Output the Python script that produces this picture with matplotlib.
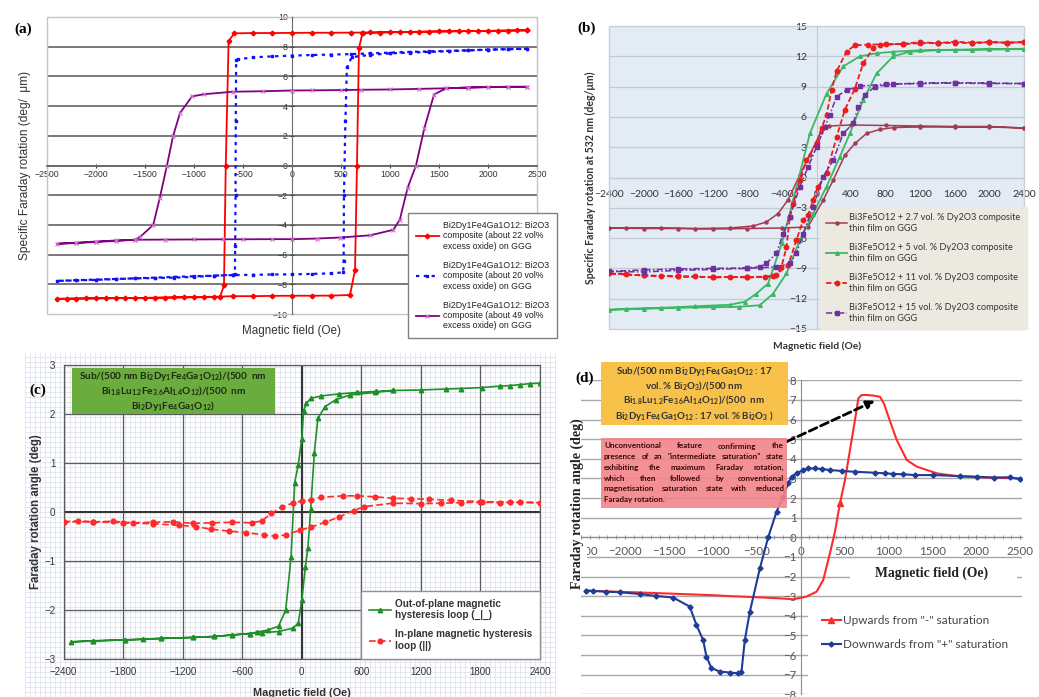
"""
Four-panel Faraday rotation hysteresis figure (a)-(d)
"""
import numpy as np
import matplotlib
matplotlib.use('Agg')
import matplotlib.pyplot as plt
from matplotlib.patches import Rectangle

plt.rcParams['mathtext.default'] = 'regular'

W, H = 1039, 697
ARIAL = 'Liberation Sans'
CALIBRI = 'Lato'
TIMES = 'Liberation Serif'

# ---------------- panel (a) data ----------------
a_red_x = [2400, 2200, 2000, 1800, 1600, 1400, 1200, 1000, 800, 720, 600, 400, 200, 0, -200, -400, -590,
           -647, -676, -694, -735, -900, -1100, -1300, -1500, -1700, -1900, -2100, -2300, -2400,
           -2200, -2000, -1800, -1600, -1400, -1200, -1000, -800, -600, -400, -200, 0, 200, 400, 592,
           643, 663, 683, 719, 900, 1100, 1300, 1500, 1700, 1900, 2100, 2300, 2400]
a_red_y = [9.1, 9.08, 9.06, 9.05, 9.03, 9.02, 9.0, 8.99, 8.97, 8.95, 8.95, 8.94, 8.94, 8.93, 8.92, 8.92, 8.9,
           8.37, 0.0, -8.08, -8.85, -8.87, -8.88, -8.9, -8.92, -8.93, -8.94, -8.95, -8.97, -8.98,
           -8.96, -8.95, -8.93, -8.92, -8.9, -8.88, -8.86, -8.84, -8.8, -8.8, -8.78, -8.77, -8.77, -8.76, -8.72,
           -7.03, 0.0, 7.9, 8.9, 8.95, 8.98, 9.0, 9.03, 9.05, 9.06, 9.08, 9.1, 9.1]

a_blue_x = [2400, 2200, 2000, 1800, 1600, 1400, 1200, 1000, 800, 600, 400, 200, 0, -200, -400, -550, -570,
            -574, -576, -580, -583, -600, -800, -1000, -1200, -1400, -1600, -1800, -2000, -2200, -2400,
            -2200, -2000, -1800, -1600, -1400, -1200, -1000, -800, -600, -400, -200, 0, 200, 400, 523,
            527, 530, 545, 560, 610, 800, 1000, 1200, 1400, 1600, 1800, 2000, 2200, 2400]
a_blue_y = [7.86, 7.84, 7.8, 7.76, 7.72, 7.68, 7.65, 7.6, 7.55, 7.5, 7.47, 7.44, 7.4, 7.35, 7.28, 7.15, 7.1,
            3.0, -2.0, -5.45, -7.3, -7.36, -7.42, -7.5, -7.55, -7.58, -7.6, -7.65, -7.7, -7.74, -7.77,
            -7.72, -7.68, -7.64, -7.6, -7.55, -7.5, -7.46, -7.42, -7.38, -7.36, -7.34, -7.33, -7.3, -7.26, -7.2,
            -6.4, -2.0, 3.0, 6.6, 7.3, 7.45, 7.55, 7.6, 7.65, 7.7, 7.75, 7.8, 7.83, 7.86]

a_purple_x = [2400, 2200, 2000, 1800, 1573, 1300, 1000, 700, 500, 200, 0, -300, -600, -900, -1021, -1143,
              -1214, -1276, -1350, -1416, -1548, -1600, -1800, -2000, -2200, -2400,
              -2200, -2000, -1800, -1600, -1300, -1000, -700, -500, -200, 0, 250, 493, 800, 1034, 1100,
              1180, 1265, 1350, 1449, 1573, 1800, 2000, 2200, 2400]
a_purple_y = [5.3, 5.3, 5.28, 5.25, 5.2, 5.16, 5.12, 5.1, 5.08, 5.06, 5.05, 5.0, 4.97, 4.8, 4.65, 3.53,
              1.97, 0.0, -2.2, -4.0, -4.8, -5.0, -5.08, -5.15, -5.22, -5.27,
              -5.2, -5.12, -5.05, -5.0, -4.99, -4.98, -4.97, -4.97, -4.96, -4.96, -4.92, -4.85, -4.7, -4.33, -3.65,
              -1.5, 0.0, 2.5, 4.78, 5.2, 5.25, 5.28, 5.3, 5.3]

a_labels = ['Bi2Dy1Fe4Ga1O12: Bi2O3\ncomposite (about 22 vol%\nexcess oxide) on GGG',
            'Bi2Dy1Fe4Ga1O12: Bi2O3\ncomposite (about 20 vol%\nexcess oxide) on GGG',
            'Bi2Dy1Fe4Ga1O12: Bi2O3\ncomposite (about 49 vol%\nexcess oxide) on GGG']

# ---------------- panel (b) data ----------------
b_brown_x = [2400, 2000, 1600, 1200, 800, 400, 150, 50, -77, -193, -328, -444, -579, -733, -1000, -1400,
             -1800, -2200, -2400, -2000, -1600, -1200, -800, -400, -100, 77, 193, 328, 444, 579, 733, 900,
             1200, 1600, 2000, 2400]
b_brown_y = [4.9, 5.05, 5.05, 5.1, 5.15, 5.2, 5.1, 4.5, 2.25, 0.26, -2.2, -3.57, -4.4, -4.8, -5.0, -5.05,
             -5.0, -5.0, -5.0, -5.05, -5.05, -5.1, -5.05, -5.0, -4.9, -2.25, -0.26, 2.2, 3.37, 4.36, 4.76, 4.95,
             5.0, 5.0, 5.0, 4.9]

b_green_x = [2400, 2000, 1600, 1200, 888, 695, 502, 309, 116, -77, -270, -400, -560, -695, -830, -1000,
             -1400, -1800, -2200, -2400, -2000, -1600, -1200, -900, -656, -502, -347, -193, -39, 116, 270,
             386, 540, 695, 888, 1080, 1400, 1800, 2200, 2400]
b_green_y = [12.7, 12.7, 12.65, 12.6, 12.45, 12.3, 12.0, 11.0, 8.3, 4.36, -2.25, -6.5, -10.5, -11.5, -12.3,
             -12.6, -12.75, -12.9, -13.0, -13.1, -13.0, -12.9, -12.85, -12.8, -12.65, -11.5, -9.5, -6.2, -3.57,
             -0.9, 2.05, 4.36, 7.66, 10.3, 12.0, 12.45, 12.6, 12.65, 12.7, 12.75]

b_red_x = [2400, 2200, 2000, 1800, 1600, 1400, 1200, 1000, 800, 600, 444, 347, 232, 174, 116, 58, 0, -116,
           -193, -270, -309, -347, -405, -463, -600, -800, -1000, -1200, -1400, -1600, -1800, -2000, -2200,
           -2400, -2000, -1600, -1200, -800, -500, -328, -232, -154, -96, -39, 19, 116, 232, 328, 444, 540,
           656, 733, 1000, 1200, 1400, 1600, 1800, 2000, 2200, 2400]
b_red_y = [13.4, 13.35, 13.4, 13.3, 13.35, 13.3, 13.3, 13.2, 13.2, 13.15, 13.1, 12.45, 10.5, 8.65, 6.2, 4.86,
           3.37, 1.7, -0.26, -2.6, -3.9, -6.9, -8.85, -9.7, -9.85, -9.9, -9.85, -9.9, -9.8, -9.8, -9.75, -9.7,
           -9.6, -9.5, -9.7, -9.8, -9.85, -9.85, -9.8, -8.7, -6.2, -4.2, -3.7, -2.25, -0.9, 0.4, 4.0, 6.7, 8.8,
           11.3, 12.8, 13.1, 13.25, 13.4, 13.3, 13.45, 13.35, 13.4, 13.35, 13.4]

b_purple_x = [2400, 2000, 1600, 1200, 800, 502, 347, 232, 154, 96, 0, -96, -193, -309, -386, -463, -579,
              -656, -800, -1200, -1600, -2000, -2400, -2000, -1600, -1200, -800, -463, -309, -232, -154, -39,
              77, 193, 309, 424, 482, 560, 675, 888, 1200, 1600, 2000, 2400]
b_purple_y = [9.3, 9.3, 9.35, 9.3, 9.25, 9.05, 8.65, 8.0, 6.2, 5.0, 3.0, 1.06, -0.9, -3.9, -5.55, -7.5, -8.5,
              -8.85, -8.95, -9.0, -9.05, -9.15, -9.3, -9.35, -9.2, -9.1, -9.0, -8.85, -8.5, -7.5, -5.55, -2.9,
              0.07, 1.7, 4.36, 5.35, 7.0, 8.16, 9.0, 9.25, 9.35, 9.4, 9.35, 9.3]

b_labels = ['Bi3Fe5O12 + 2.7 vol. % Dy2O3 composite\nthin film on GGG',
            'Bi3Fe5O12 + 5 vol. % Dy2O3 composite\nthin film on GGG',
            'Bi3Fe5O12 + 11 vol. % Dy2O3 composite\nthin film on GGG',
            'Bi3Fe5O12 + 15 vol. % Dy2O3 composite\nthin film on GGG']

# ---------------- panel (c) data ----------------
c_green_x = [2400, 2300, 2200, 2100, 2000, 1817, 1600, 1457, 1200, 917, 750, 558, 378, 198, 90, 47, 18, 0,
             -36, -72, -108, -162, -234, -342, -450, -522, -700, -882, -1100, -1421, -1600, -1781, -2105,
             -2321, -2105, -1781, -1421, -1100, -882, -700, -522, -400, -234, -90, -36, 0, 36, 61, 90, 126,
             162, 234, 342, 486, 738, 917]
c_green_y = [2.63, 2.62, 2.6, 2.58, 2.57, 2.54, 2.52, 2.51, 2.49, 2.48, 2.46, 2.44, 2.41, 2.37, 2.32, 2.22,
             2.07, 1.5, 0.96, 0.6, -0.91, -2.0, -2.33, -2.41, -2.45, -2.48, -2.51, -2.54, -2.56, -2.58, -2.6,
             -2.61, -2.63, -2.65, -2.63, -2.61, -2.58, -2.56, -2.54, -2.51, -2.48, -2.46, -2.44, -2.37, -2.27,
             -1.8, -1.12, -0.74, 0.07, 1.2, 1.91, 2.15, 2.29, 2.39, 2.44, 2.48]

c_red_x = [-2400, -2250, -2100, -1900, -1700, -1500, -1300, -1100, -900, -700, -500, -400, -306, -198, -90,
           0, 90, 198, 414, 558, 738, 917, 1100, 1277, 1500, 1817, 2100, 2400, 2200, 2000, 1800, 1600, 1400,
           1200, 917, 630, 522, 378, 234, 90, -18, -162, -270, -378, -558, -738, -917, -1061, -1241, -1500,
           -1800, -2100, -2400]
c_red_y = [-0.2, -0.18, -0.2, -0.19, -0.22, -0.21, -0.2, -0.23, -0.22, -0.21, -0.22, -0.18, -0.03, 0.11,
           0.18, 0.23, 0.245, 0.3, 0.33, 0.33, 0.31, 0.28, 0.27, 0.26, 0.24, 0.21, 0.2, 0.19, 0.2, 0.19, 0.2,
           0.19, 0.18, 0.17, 0.18, 0.11, 0.03, -0.1, -0.21, -0.31, -0.37, -0.47, -0.49, -0.47, -0.42, -0.39,
           -0.35, -0.3, -0.27, -0.24, -0.22, -0.2, -0.2]

c_labels = ['Out-of-plane magnetic\nhysteresis loop (_|_)', 'In-plane magnetic hysteresis\nloop (||)']

# ---------------- panel (d) data ----------------
d_up_x = [-2440, -2200, -1900, -1604, -1300, -1000, -844, -464, -200, -84, 68, 182, 258, 334, 391, 448, 505,
          562, 619, 657, 695, 760, 828, 904, 950, 999, 1094, 1208, 1322, 1550, 1816, 2196, 2519]
d_up_y = [-2.72, -2.76, -2.8, -2.85, -2.9, -2.95, -2.99, -3.06, -3.12, -3.16, -3.02, -2.77, -2.17, -0.81,
          0.29, 1.73, 2.92, 4.45, 5.98, 7.08, 7.25, 7.25, 7.22, 7.16, 6.8, 6.15, 4.96, 3.94, 3.6, 3.26, 3.09,
          3.04, 3.0]

d_down_x = [2500, 2386, 2196, 2006, 1816, 1512, 1303, 1170, 1056, 961, 847, 619, 467, 334, 239, 163, 87, 30,
            -46, -103, -141, -198, -274, -369, -464, -578, -635, -673, -711, -806, -920, -1015, -1072, -1110,
            -1186, -1262, -1452, -1642, -1832, -2060, -2212, -2364, -2440]
d_down_y = [2.95, 3.06, 3.04, 3.09, 3.12, 3.17, 3.17, 3.21, 3.23, 3.26, 3.29, 3.34, 3.38, 3.43, 3.48, 3.51,
            3.51, 3.43, 3.26, 3.09, 2.75, 2.07, 1.31, 0.0, -1.58, -3.79, -5.23, -6.84, -6.93, -6.89, -6.84,
            -6.67, -6.08, -5.23, -4.47, -3.53, -3.07, -2.99, -2.89, -2.8, -2.77, -2.73, -2.72]

d_labels = ['Upwards from "-" saturation', 'Downwards from "+" saturation']

pink_lines = ['Unconventional feature confirming the',
              'presence of an "intermediate saturation" state',
              'exhibiting the maximum Faraday rotation,',
              'which then followed by conventional',
              'magnetisation saturation state with reduced',
              'Faraday rotation.']


def box(l, t, r, b):
    """pixel box (left, top, right, bottom) -> figure fraction rect"""
    return [l / W, 1 - b / H, (r - l) / W, (b - t) / H]


def fpt(x, y):
    return (x / W, 1 - y / H)


def set_font(ax, family):
    for lab in ax.get_xticklabels() + ax.get_yticklabels():
        lab.set_fontfamily(family)


def frame(ax, color, lw=1.0):
    ax.add_patch(Rectangle((0, 0), 1, 1, transform=ax.transAxes, fill=False,
                           ec=color, lw=lw, clip_on=False, zorder=1))


def px_rect(fig, l, t, r, b, color, alpha=1.0, zorder=4):
    fig.add_artist(Rectangle(fpt(l, b), (r - l) / W, (b - t) / H, transform=fig.transFigure,
                             fc=color, ec='none', alpha=alpha, zorder=zorder))


fig = plt.figure(figsize=(W / 100, H / 100), dpi=100)

# ======================= (a) =======================
axa = fig.add_axes(box(47, 17, 537, 314))
l1, = axa.plot(a_red_x, a_red_y, color='#ff0000', lw=1.3, marker='D', ms=2.4, zorder=3)
l2, = axa.plot(a_blue_x, a_blue_y, color='#1010ff', lw=1.6, ls=(0, (1.5, 2)), marker='s', ms=1.8, zorder=3)
l3, = axa.plot(a_purple_x, a_purple_y, color='#800080', lw=1.3, marker='x', ms=3, mec='#d070d0',
               mew=0.8, zorder=3)
axa.set_xlim(-2500, 2500)
axa.set_ylim(-10, 10)
axa.set_xticks(range(-2500, 2501, 500))
axa.set_yticks(range(-10, 11, 2))
for s in ['top', 'right']:
    axa.spines[s].set_visible(False)
axa.spines['left'].set_position(('data', 0))
axa.spines['bottom'].set_position(('data', 0))
axa.spines['left'].set_color('#6a6a6a')
axa.spines['bottom'].set_color('#6a6a6a')
axa.spines['bottom'].set_linewidth(1.3)
axa.yaxis.grid(True, color='#6e6e6e', lw=1.3)
gl = axa.get_ygridlines()
gl[0].set_visible(False)
gl[-1].set_visible(False)
axa.set_axisbelow(True)
axa.tick_params(labelsize=6.3, colors='#333333', length=3, width=0.8, direction='inout', pad=1.5)
set_font(axa, ARIAL)
frame(axa, '#c4c4c4')
axa.legend([l1, l2, l3], a_labels, loc='upper left', bbox_to_anchor=fpt(408, 213),
           bbox_transform=fig.transFigure, borderaxespad=0, fancybox=False, edgecolor='#808080',
           framealpha=1, prop={'family': ARIAL, 'size': 6.3}, labelcolor='#222222',
           handlelength=2.6, handletextpad=0.5, labelspacing=1.15, borderpad=0.9)
fig.text(*fpt(25, 165), 'Specific Faraday rotation (deg/  μm)', rotation=90, ha='center', va='center',
         family=ARIAL, size=8.6, color='#333333')
fig.text(*fpt(291, 331), 'Magnetic field (Oe)', ha='center', va='center', family=ARIAL, size=8.4,
         color='#333333')
fig.text(*fpt(23, 29), '(a)', ha='center', va='center', family=TIMES, weight='bold', size=11)

# ======================= (b) =======================
axb = fig.add_axes(box(609, 26, 1024, 329))
axb.set_facecolor('#e3ebf5')
m1, = axb.plot(b_brown_x, b_brown_y, color='#a33c52', lw=1.1, marker='o', ms=2.2, zorder=3)
m2, = axb.plot(b_green_x, b_green_y, color='#3cb862', lw=1.3, marker='^', ms=2.6, zorder=3)
m3, = axb.plot(b_red_x, b_red_y, color='#ee1c1c', lw=1.3, ls=(0, (3, 1.5)), marker='o', ms=3.2, zorder=3)
m4, = axb.plot(b_purple_x, b_purple_y, color='#7030a0', lw=1.1, ls=(0, (4, 1.5, 1, 1.5)), marker='s',
               ms=2.6, zorder=3)
axb.set_xlim(-2400, 2400)
axb.set_ylim(-15, 15)
axb.set_xticks(range(-2400, 2401, 400))
axb.set_yticks(range(-15, 16, 3))
for s in ['top', 'right']:
    axb.spines[s].set_visible(False)
axb.spines['left'].set_position(('data', 0))
axb.spines['bottom'].set_position(('data', 0))
axb.spines['left'].set_color('#c2cad4')
axb.spines['bottom'].set_color('#c2cad4')
axb.yaxis.grid(True, color='#c2cad4', lw=0.9)
gl = axb.get_ygridlines()
gl[0].set_visible(False)
gl[-1].set_visible(False)
axb.set_axisbelow(True)
axb.tick_params(labelsize=7.5, colors='#333333', length=0)
axb.tick_params(axis='x', pad=9)
axb.tick_params(axis='y', pad=7)
set_font(axb, CALIBRI)
frame(axb, '#c8d0da')
axb.legend([m1, m2, m3, m4], b_labels, loc='upper left', bbox_to_anchor=fpt(820, 207),
           bbox_transform=fig.transFigure, borderaxespad=0, fancybox=False, facecolor='#ece9e0',
           edgecolor='#ece9e0', framealpha=1, prop={'family': CALIBRI, 'size': 6.6},
           labelcolor='#333333', handlelength=2.2, handletextpad=0.3, labelspacing=1.15, borderpad=0.7)
fig.text(*fpt(590, 178), 'Specific Faraday rotation at 532 nm (deg/μm)', rotation=90, ha='center',
         va='center', family=CALIBRI, weight='bold', size=7.6, color='#333333')
fig.text(*fpt(817, 346), 'Magnetic field (Oe)', ha='center', va='center', family=CALIBRI,
         weight='bold', size=7.4, color='#333333')
fig.text(*fpt(587, 28), '(b)', ha='center', va='center', family=TIMES, weight='bold', size=11)

# ======================= (c) =======================
bgc = fig.add_axes(box(25, 353, 556, 697))
bgc.set_xlim(0, 531)
bgc.set_ylim(0, 344)
bgc.set_xticks(range(0, 532, 5))
bgc.set_yticks(range(0, 345, 5))
bgc.grid(True, color='#d8dfeb', lw=0.5)
bgc.tick_params(length=0, labelbottom=False, labelleft=False)
for s in bgc.spines.values():
    s.set_visible(False)

axc = fig.add_axes(box(63.6, 365, 540, 659))
axc.set_facecolor('none')
n1, = axc.plot(c_green_x, c_green_y, color='#1f8f2a', lw=1.2, marker='^', ms=3.2, zorder=3)
n2, = axc.plot(c_red_x, c_red_y, color='#ff2a2a', lw=1.2, ls=(0, (4, 2)), marker='o', ms=3.4, zorder=3)
axc.axhline(0, color='#333333', lw=1.4, zorder=2)
axc.axvline(0, color='#333333', lw=1.4, zorder=2)
axc.set_xlim(-2400, 2400)
axc.set_ylim(-3, 3)
axc.set_xticks(range(-2400, 2401, 600))
axc.set_yticks(range(-3, 4, 1))
axc.grid(True, color='#5c5c5c', lw=0.9)
axc.set_axisbelow(True)
for s in axc.spines.values():
    s.set_color('#5c5c5c')
    s.set_linewidth(0.9)
axc.tick_params(labelsize=7, colors='#333333', length=0, pad=6)
set_font(axc, ARIAL)
axc.legend([n1, n2], c_labels, loc='lower right', bbox_to_anchor=(1, 0), borderaxespad=0,
           fancybox=False, edgecolor='#909090', framealpha=1,
           prop={'family': ARIAL, 'size': 7.2, 'weight': 'bold'}, labelcolor='#333333',
           handlelength=2.2, handletextpad=0.4, labelspacing=0.9, borderpad=0.8)
px_rect(fig, 71.7, 368.3, 275, 414.3, '#6aad3e', zorder=4)
fig.text(*fpt(173.4, 391.3),
         'Sub/(500 nm Bi$_2$Dy$_1$Fe$_4$Ga$_1$O$_{12}$)/(500  nm\n'
         'Bi$_{1.8}$Lu$_{1.2}$Fe$_{3.6}$Al$_{1.4}$O$_{12}$)/(500  nm\n'
         'Bi$_2$Dy$_1$Fe$_4$Ga$_1$O$_{12}$)',
         ha='center', va='center', ma='center', family=CALIBRI, weight='bold', size=7.2,
         color='#1c2a12', linespacing=1.15, zorder=5)
fig.text(*fpt(38, 390), '(c)', ha='center', va='center', family=TIMES, weight='bold', size=11)
fig.text(*fpt(36, 512), 'Faraday rotation angle (deg)', rotation=90, ha='center', va='center',
         family=ARIAL, weight='bold', size=8.3, color='#333333')
fig.text(*fpt(302, 693), 'Magnetic field (Oe)', ha='center', va='center', family=ARIAL,
         weight='bold', size=7.8, color='#333333')

# ======================= (d) =======================
axd = fig.add_axes(box(581, 380.3, 1022, 694.3))
k1, = axd.plot(d_up_x, d_up_y, color='#ff2a2a', lw=1.5, marker='^', markevery=[15], ms=4, zorder=3)
k2, = axd.plot(d_down_x, d_down_y, color='#1f3c96', lw=1.5, marker='D', ms=2.6, zorder=3)
axd.set_xlim(-2500, 2520)
axd.set_ylim(-8, 8)
axd.set_xticks(range(-2500, 2501, 500))
axd.set_xticks(range(-2500, 2501, 100), minor=True)
axd.set_yticks(range(-8, 9, 1))
for s in ['top', 'right']:
    axd.spines[s].set_visible(False)
axd.spines['left'].set_position(('data', 0))
axd.spines['bottom'].set_position(('data', 0))
axd.spines['left'].set_color('#8c8c8c')
axd.spines['bottom'].set_color('#8c8c8c')
axd.yaxis.grid(True, color='#a8a8a8', lw=1.0)
axd.set_axisbelow(True)
axd.tick_params(labelsize=8.3, colors='#555555', length=0)
axd.tick_params(axis='x', which='both', direction='inout', length=3, color='#8c8c8c', pad=5)
axd.tick_params(axis='y', pad=3)
set_font(axd, CALIBRI)
axd.annotate('', xy=(846, 6.96), xytext=(-160, 4.87),
             arrowprops=dict(arrowstyle='-|>', color='black', lw=2, ls=(0, (3, 1.5)),
                             mutation_scale=12, shrinkA=0, shrinkB=0))

# white areas covering grid lines under legend, x label and cut tick label
px_rect(fig, 808, 607, 1022, 697, 'white', zorder=4)
px_rect(fig, 850, 561, 1017, 585, 'white', zorder=4)
px_rect(fig, 556, 543, 587, 560, 'white', zorder=4)

leg = fig.legend([k1, k2], d_labels, loc='upper left', bbox_to_anchor=fpt(822, 615),
                 bbox_transform=fig.transFigure, frameon=False,
                 prop={'family': CALIBRI, 'size': 8.5}, labelcolor='#444444', handlelength=1.6,
                 handletextpad=0.15, labelspacing=1.1, borderpad=0, borderaxespad=0)
leg.set_zorder(6)

# annotation boxes
px_rect(fig, 601, 361.7, 787.7, 425, '#f8c24a', zorder=4)
fig.text(*fpt(694, 393.5),
         'Sub/(500 nm Bi$_2$Dy$_1$Fe$_4$Ga$_1$O$_{12}$ : 17\n'
         'vol. % Bi$_2$O$_3$)/(500 nm\n'
         'Bi$_{1.8}$Lu$_{1.2}$Fe$_{3.6}$Al$_{1.4}$O$_{12}$)/(500  nm\n'
         'Bi$_2$Dy$_1$Fe$_4$Ga$_1$O$_{12}$ : 17 vol. % Bi$_2$O$_3$ )',
         ha='center', va='center', ma='center', family=CALIBRI, weight='bold', size=7,
         color='#333333', linespacing=1.15, zorder=5)

px_rect(fig, 601, 438.3, 786.7, 507.7, '#f2848a', alpha=0.9, zorder=4)
renderer = fig.canvas.get_renderer()
kw = dict(family=CALIBRI, weight='bold', size=5.8, color='#3a0808', va='center', ha='left', zorder=5)
x0, x1 = 604, 784
for i, line in enumerate(pink_lines):
    y = 446 + i * 10.7
    if i == len(pink_lines) - 1:
        fig.text(*fpt(x0, y), line, **kw)
        continue
    words = line.split()
    texts = [fig.text(0, 0, w, **kw) for w in words]
    widths = [t.get_window_extent(renderer).width for t in texts]
    gap = (x1 - x0 - sum(widths)) / (len(words) - 1)
    x = x0
    for t, w in zip(texts, widths):
        t.set_position(fpt(x, y))
        x += w + gap

fig.text(*fpt(585, 378), '(d)', ha='center', va='center', family=TIMES, weight='bold', size=11)
fig.text(*fpt(577, 504), 'Faraday rotation angle (deg)', rotation=90, ha='center', va='center',
         family=TIMES, weight='bold', size=10, color='#222222', zorder=5)
fig.text(*fpt(932, 573), 'Magnetic field (Oe)', ha='center', va='center', family=TIMES,
         weight='bold', size=9.8, color='#222222', zorder=5)

fig.savefig('out.png', dpi=100)
